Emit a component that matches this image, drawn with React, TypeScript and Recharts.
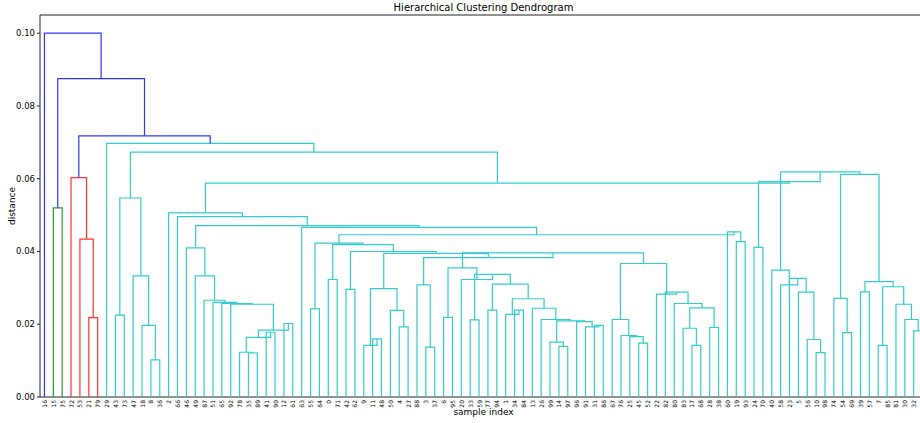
import React from "react";
import { ComposedChart, Scatter, XAxis, YAxis, ReferenceLine } from "recharts";

// A node is either a leaf label or [left, right, merge distance].
type Node = string | [Node, Node, number];

const greenCluster: Node = ["15", "75", 0.052];
const redCluster: Node = ["72", ["53", ["21", "79", 0.0218], 0.0434], 0.0603];

const groupA: Node = [
  ["43", "73", 0.0225],
  ["47", ["18", ["8", "36", 0.0102], 0.0197], 0.0333],
  0.0547,
];

const chainTail: Node = [
  [["78", ["35", "89", 0.0121], 0.0123], ["41", "90", 0.0178], 0.0164],
  ["12", "61", 0.0202],
  0.0184,
];
const groupB: Node = [
  "46",
  ["49", ["87", ["51", ["65", ["92", chainTail, 0.0255], 0.0257], 0.026], 0.0266], 0.0333],
  0.041,
];

const groupWp: Node = [
  "26",
  [
    ["99", ["14", "97", 0.0139], 0.0151],
    ["96", ["91", ["31", "86", 0.0197], 0.0193], 0.0207],
    0.0209,
  ],
  0.0213,
];
const groupT: Node = [["1", ["34", "84", 0.0239], 0.0227], ["13", groupWp, 0.0244], 0.027];
const groupN460: Node = [
  ["6", "95", 0.0219],
  ["20", [["33", "59", 0.0212], [["77", "94", 0.0239], groupT, 0.031], 0.0337], 0.0323],
  0.0355,
];
const groupGp: Node = ["67", ["76", ["25", ["45", "52", 0.0148], 0.0166], 0.0169], 0.0213];
const groupH: Node = [
  "22",
  ["82", ["80", [["83", ["17", "68", 0.0142], 0.0189], ["28", "38", 0.0191], 0.0245], 0.0257], 0.0288],
  0.0283,
];
const groupG381: Node = [
  ["9", ["11", "48", 0.016], 0.0142],
  ["50", ["4", "27", 0.0193], 0.0238],
  0.0298,
];
const groupQ: Node = [
  ["88", ["3", "37", 0.0137], 0.0308],
  [groupN460, [groupGp, groupH, 0.0367], 0.0396],
  0.0383,
];
const groupY: Node = [
  [
    ["55", "64", 0.0242],
    [["0", "71", 0.0323], [["42", "62", 0.0296], [groupG381, groupQ, 0.0395], 0.04], 0.0419],
    0.0423,
  ],
  ["60", ["19", "93", 0.0427], 0.0454],
  0.0446,
];

const groupLL: Node = [
  "40",
  ["58", ["23", ["5", ["56", ["10", "98", 0.0122], 0.0158], 0.0288], 0.0326], 0.0308],
  0.0349,
];
const groupRR: Node = [
  ["74", ["54", "69", 0.0177], 0.0271],
  [["39", "57", 0.0289], [["7", "85", 0.0142], ["81", ["30", ["32", "44", 0.0182], 0.0213], 0.0255], 0.0303], 0.0317],
  0.0612,
];

const leftBranch: Node = ["2", ["66", [groupB, ["63", groupY, 0.0466], 0.0471], 0.0496], 0.0506];
const rightBranch: Node = [["24", "70", 0.0411], [groupLL, groupRR, 0.0619], 0.0592];
const cyanCluster: Node = ["29", [groupA, [leftBranch, rightBranch, 0.0588], 0.0673], 0.0697];

const root: Node = ["16", [greenCluster, [redCluster, cyanCluster, 0.0718], 0.0875], 0.1];

const colorThreshold = 0.07;
const clusterColors = ["#2a9a2a", "#ff3333", "#33cccc", "#bf00bf", "#bfbf00"];
const aboveColor = "#3333ff";
const yTicks = [0, 0.02, 0.04, 0.06, 0.08, 0.1];

type Pt = { x: number; y: number };
type Link = { pts: Pt[]; color: string };

// Walk the tree left to right, placing leaves at 5, 15, 25, ... like scipy does.
function layout(tree: Node) {
  const labels: string[] = [];
  const links: Link[] = [];
  let colorIdx = 0;
  const walk = (n: Node, color: string | null): { x: number; h: number } => {
    if (typeof n === "string") {
      labels.push(n);
      return { x: 5 + 10 * (labels.length - 1), h: 0 };
    }
    const [l, r, h] = n;
    let c = color;
    if (c === null && h < colorThreshold) c = clusterColors[colorIdx++ % clusterColors.length];
    const a = walk(l, c);
    const b = walk(r, c);
    links.push({
      pts: [
        { x: a.x, y: a.h },
        { x: a.x, y: h },
        { x: b.x, y: h },
        { x: b.x, y: b.h },
      ],
      color: c ?? aboveColor,
    });
    return { x: (a.x + b.x) / 2, h };
  };
  walk(tree, null);
  return { labels, links };
}

const { labels: leafLabels, links } = layout(root);
const leafTicks = leafLabels.map((_, i) => 5 + 10 * i);

const font = "DejaVu Sans, sans-serif";

const LeafTick = (props: any) => {
  const { x, y, payload } = props;
  const label = leafLabels[Math.round((payload.value - 5) / 10)];
  const ty = y + 3;
  return (
    <text
      x={x}
      y={ty}
      transform={`rotate(-90 ${x} ${ty})`}
      textAnchor="end"
      dominantBaseline="central"
      fontSize={6}
      fontFamily={font}
      fill="#000"
    >
      {label}
    </text>
  );
};

const noShape = () => <g />;

export default function App() {
  return (
    <div
      style={{
        position: "absolute",
        left: 0,
        top: 0,
        width: 920,
        height: 423,
        overflow: "hidden",
        background: "#fff",
        fontFamily: font,
      }}
    >
      <div
        style={{
          position: "absolute",
          left: 0,
          width: 967,
          top: 2,
          textAlign: "center",
          fontSize: 10,
          color: "#000",
        }}
      >
        Hierarchical Clustering Dendrogram
      </div>
      <div
        style={{
          position: "absolute",
          left: 12,
          top: 206,
          fontSize: 9,
          transform: "translate(-50%, -50%) rotate(-90deg)",
          transformOrigin: "center",
          whiteSpace: "nowrap",
        }}
      >
        distance
      </div>
      <div
        style={{
          position: "absolute",
          left: 0,
          width: 967,
          top: 407,
          textAlign: "center",
          fontSize: 9,
        }}
      >
        sample index
      </div>
      <ComposedChart
        width={928}
        height={423}
        margin={{ top: 15, right: 1, bottom: 0, left: 0 }}
      >
        <XAxis
          type="number"
          dataKey="x"
          domain={[0, 1000]}
          ticks={leafTicks}
          interval={0}
          tick={<LeafTick />}
          tickLine={false}
          tickSize={0}
          tickMargin={0}
          height={26}
          axisLine={{ stroke: "#222", strokeWidth: 1 }}
          allowDataOverflow
        />
        <YAxis
          type="number"
          dataKey="y"
          domain={[0, 0.105]}
          ticks={yTicks}
          interval={0}
          width={40}
          tickSize={3}
          tickMargin={2}
          tickFormatter={(v: number) => v.toFixed(2)}
          tick={{ fontSize: 8.5, fill: "#000", fontFamily: font }}
          tickLine={{ stroke: "#222" }}
          axisLine={{ stroke: "#222", strokeWidth: 1 }}
          allowDataOverflow
        />
        <ReferenceLine y={0.105} stroke="#222" strokeWidth={1} ifOverflow="extendDomain" />
        {links.map((lk, i) => (
          <Scatter
            key={`link-${i}`}
            data={lk.pts}
            line={{ stroke: lk.color, strokeWidth: 1.2 }}
            lineType="joint"
            shape={noShape}
            fill={lk.color}
            isAnimationActive={false}
          />
        ))}
      </ComposedChart>
    </div>
  );
}
